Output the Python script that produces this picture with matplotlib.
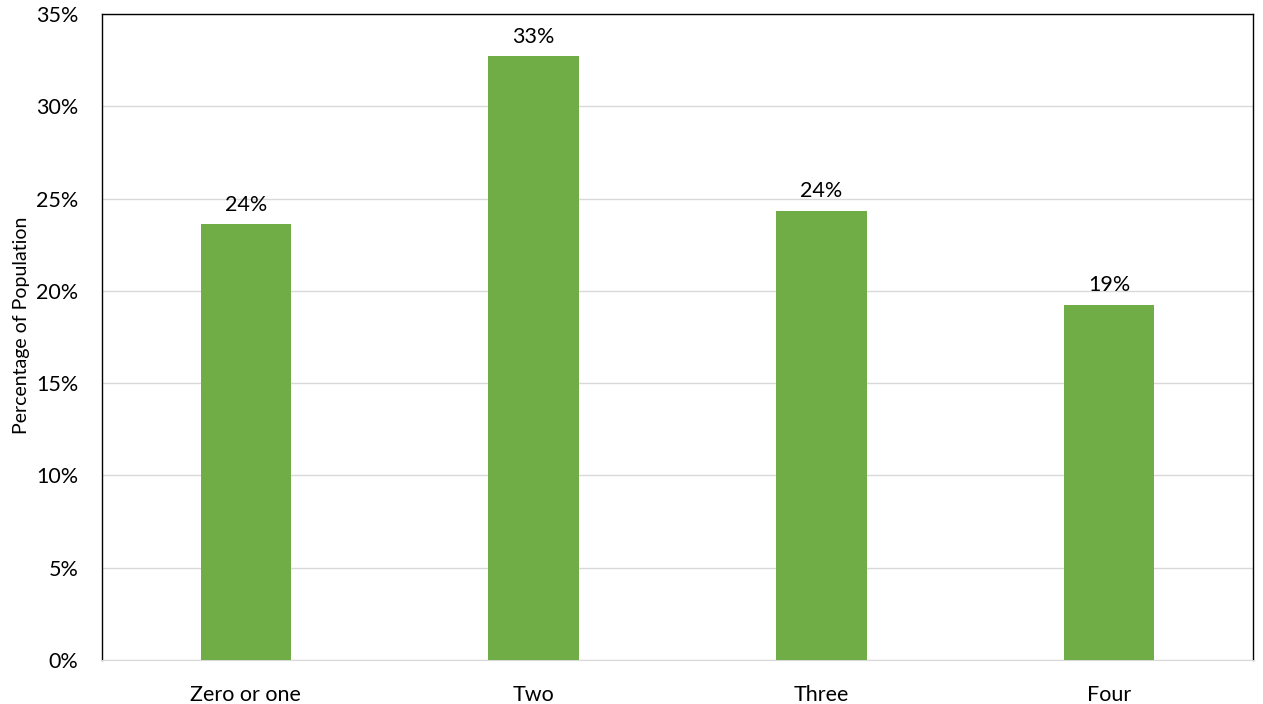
import matplotlib
matplotlib.use("Agg")
import matplotlib.pyplot as plt
from matplotlib.ticker import FuncFormatter

categories = ["Zero or one", "Two", "Three", "Four"]
values = [23.6, 32.7, 24.35, 19.25]
labels = ["24%", "33%", "24%", "19%"]

plt.rcParams['font.family'] = ['Lato', 'DejaVu Sans']

fig = plt.figure(figsize=(12.63, 7.04), dpi=100)
ax = fig.add_axes([102 / 1263, 44 / 704, 1151 / 1263, 646 / 704])

x = range(len(categories))
bars = ax.bar(x, values, width=0.315, color="#70AD47", zorder=3)

for b, lab in zip(bars, labels):
    ax.text(b.get_x() + b.get_width() / 2, b.get_height() + 0.5, lab,
            ha="center", va="bottom", fontsize=15.5, color="#000000")

ax.set_xlim(-0.5, 3.5)
ax.set_ylim(0, 35)
ax.set_yticks(range(0, 36, 5))
ax.yaxis.set_major_formatter(FuncFormatter(lambda v, p: "%d%%" % v))
ax.set_xticks(list(x))
ax.set_xticklabels(categories)
ax.tick_params(axis="both", length=0, labelsize=15.5, colors="#000000")
ax.tick_params(axis="x", pad=18)
ax.tick_params(axis="y", pad=17)

ax.grid(axis="y", color="#D9D9D9", linewidth=1, zorder=0)
for side in ["left", "top", "right"]:
    ax.spines[side].set_color("#000000")
    ax.spines[side].set_linewidth(1)
ax.spines["bottom"].set_color("#D9D9D9")

ax.set_ylabel("Percentage of Population", fontsize=14)
ax.yaxis.set_label_coords(-72 / 1151, 0.518)

fig.savefig("out.png", dpi=100)
